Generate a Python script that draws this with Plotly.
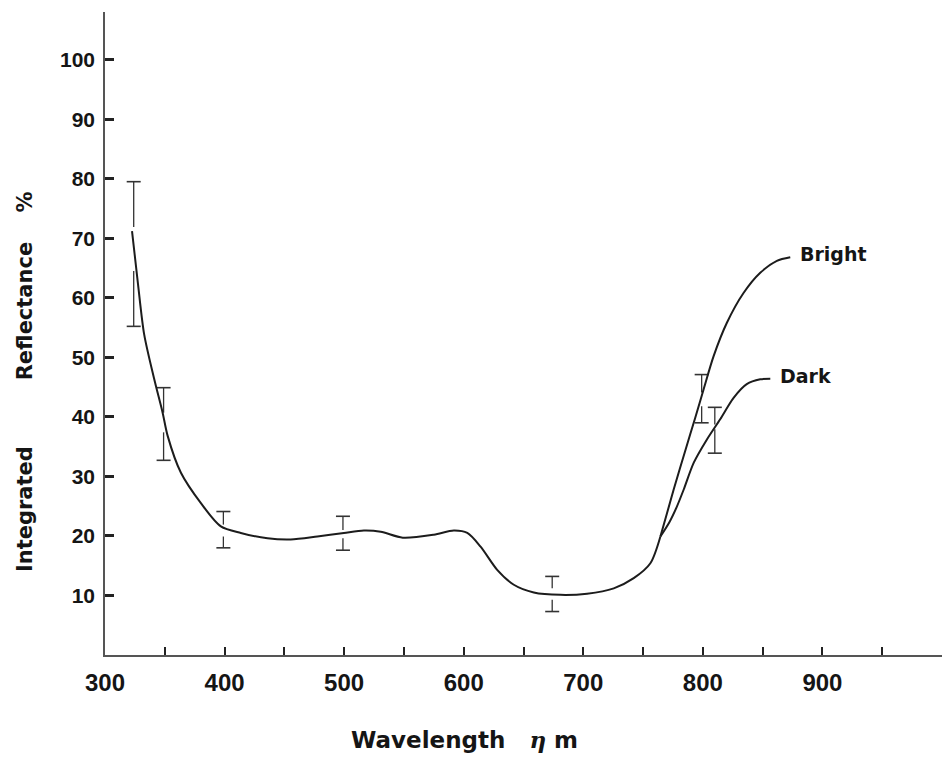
import plotly.graph_objects as go

# ---- data ----
main_x = [322.6, 327.6, 332.8, 341.2, 348.2, 352.4, 363.5, 380.2, 396.9, 413.6, 435.9,
          455.3, 477.6, 499.8, 516.5, 530.6, 549.0, 575.0, 591.7, 603.0, 614.1, 628.0,
          641.9, 658.6, 680.9, 703.2, 725.5, 742.2, 756.1, 764.5]
main_y = [71.2, 62.3, 53.8, 46.3, 40.7, 36.8, 30.6, 25.5, 21.6, 20.5, 19.6,
          19.4, 19.9, 20.5, 20.9, 20.7, 19.7, 20.2, 20.9, 20.5, 18.2, 14.3,
          11.8, 10.5, 10.1, 10.3, 11.2, 12.9, 15.4, 19.9]

bright_x = [764.5, 770.0, 775.6, 785.4, 793.7, 800.6, 809.0, 820.1, 834.0, 848.0, 861.9, 873.1]
bright_y = [19.9, 23.8, 27.8, 34.4, 39.9, 44.6, 50.2, 55.8, 60.8, 64.2, 66.2, 66.8]

dark_x = [764.5, 772.0, 778.0, 784.0, 792.4, 803.4, 814.5, 825.7, 836.7, 848.0, 856.4]
dark_y = [19.9, 22.3, 24.8, 27.8, 32.3, 36.2, 39.6, 43.2, 45.5, 46.3, 46.4]

# error bars: x, upper end, lower end, and the break where the curve passes
eb_x = [324, 349, 399, 499, 674, 799, 810]
eb_hi = [79.5, 44.9, 24.1, 23.3, 13.2, 47.1, 41.6]
eb_lo = [55.2, 32.7, 18.0, 17.6, 7.3, 39.0, 33.9]
eb_gap_top = [71.9, 40.7, 21.9, 21.0, 11.2, 44.1, 38.7]
eb_gap_bot = [64.5, 37.4, 19.9, 19.6, 9.3, 41.8, 37.9]

x_ticks = [300, 350, 400, 450, 500, 550, 600, 650, 700, 750, 800, 850, 900, 950, 1000]
x_ticktext = ["300", "", "400", "", "500", "", "600", "", "700", "", "800", "", "900", "", ""]
y_ticks = [10, 20, 30, 40, 50, 60, 70, 80, 90, 100]

labels = [("Bright", 879.6, 67.3), ("Dark", 862.9, 46.9)]

# ---- figure ----
LINE = "#1c1c1c"
fig = go.Figure()

seg_x, seg_y = [], []
for x, hi, lo, gt, gb in zip(eb_x, eb_hi, eb_lo, eb_gap_top, eb_gap_bot):
    seg_x += [x, x, None, x, x, None]
    seg_y += [hi, gt, None, gb, lo, None]
fig.add_trace(go.Scatter(x=seg_x, y=seg_y, mode="lines",
                         line=dict(color="#333333", width=1.3), hoverinfo="skip"))
fig.add_trace(go.Scatter(x=eb_x + eb_x, y=eb_hi + eb_lo, mode="markers",
                         marker=dict(symbol="line-ew", size=10,
                                     line=dict(color="#333333", width=1.6)),
                         hoverinfo="skip"))

for xs, ys in [(main_x, main_y), (bright_x, bright_y), (dark_x, dark_y)]:
    fig.add_trace(go.Scatter(x=xs, y=ys, mode="lines",
                             line=dict(color=LINE, width=2, shape="spline", smoothing=0.8),
                             hoverinfo="skip"))

for text, x, y in labels:
    fig.add_annotation(x=x, y=y, text=text, showarrow=False, xanchor="left", yanchor="middle",
                       font=dict(family="DejaVu Sans", size=19, color="#151515", weight="bold"))

fig.add_annotation(xref="paper", yref="paper", x=0.43, y=-0.132,
                   text="Wavelength&nbsp;&nbsp;&nbsp;<span style='font-family:DejaVu Serif'><i>η</i></span> m",
                   showarrow=False, xanchor="center", yanchor="middle",
                   font=dict(family="DejaVu Sans", size=23, color="#151515", weight="bold"))
fig.add_annotation(xref="paper", yref="paper", x=-0.0956, y=0.426,
                   text="Integrated" + "&nbsp;" * 9 + "Reflectance" + "&nbsp;" * 4 + "%",
                   textangle=-90, showarrow=False, xanchor="center", yanchor="middle",
                   font=dict(family="DejaVu Sans", size=21, color="#151515", weight="bold"))

fig.update_layout(
    width=942, height=757,
    margin=dict(l=105, r=0, t=12, b=102),
    paper_bgcolor="white", plot_bgcolor="white",
    showlegend=False,
    xaxis=dict(range=[300, 1000], tickvals=x_ticks, ticktext=x_ticktext,
               ticks="inside", ticklen=8, tickwidth=2, tickcolor="#222",
               showline=True, linecolor="#555", linewidth=1.5,
               showgrid=False, zeroline=False, ticklabelstandoff=5,
               tickfont=dict(family="Liberation Sans, Arial", size=24, color="#151515", weight="bold")),
    yaxis=dict(range=[0, 108], tickvals=y_ticks,
               ticks="inside", ticklen=9, tickwidth=2.5, tickcolor="#222",
               showline=True, linecolor="#555", linewidth=1.5,
               showgrid=False, zeroline=False, ticklabelstandoff=4,
               tickfont=dict(family="Liberation Sans, Arial", size=21, color="#151515", weight="bold")),
)

fig.write_html("out.html")
